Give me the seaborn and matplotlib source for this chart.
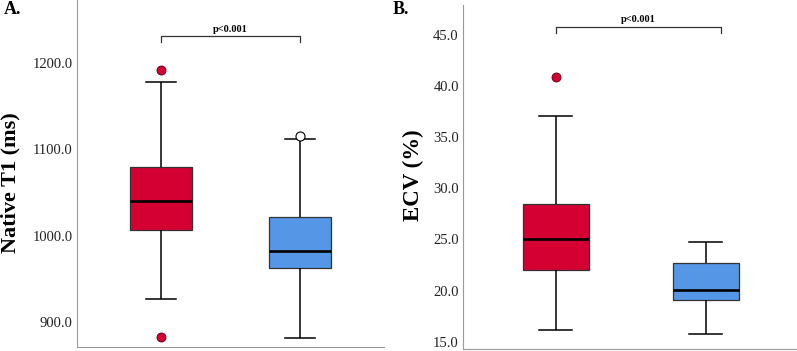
import pandas as pd
import seaborn as sns
import matplotlib.pyplot as plt

# groups (no x labels shown in the figure)
groups = ["Group 1", "Group 2"]
colors = ["#D50032", "#5596E6"]

# Panel A : Native T1 (ms) - box summaries
t1_whislo = [927, 881]
t1_q1 = [1006, 963]
t1_med = [1040, 982]
t1_q3 = [1080, 1022]
t1_whishi = [1178, 1112]
t1_out_red = [1192, 883]
t1_out_blue = [1116]

# Panel B : ECV (%)
ecv_whislo = [16.1, 15.75]
ecv_q1 = [22.0, 19.1]
ecv_med = [25.0, 20.07]
ecv_q3 = [28.5, 22.7]
ecv_whishi = [37.1, 24.75]
ecv_out_red = [40.9]
ecv_out_blue = []


def make_long(whislo, q1, med, q3, whishi):
    # five points per group -> exact quartiles with linear percentiles
    rows = []
    for i, g in enumerate(groups):
        for v in (whislo[i], q1[i], med[i], q3[i], whishi[i]):
            rows.append({"group": g, "value": v})
    return pd.DataFrame(rows)


plt.rcParams["font.family"] = ["Liberation Serif", "DejaVu Serif"]

fig = plt.figure(figsize=(7.97, 3.51), dpi=100)
axA = fig.add_axes([77 / 797, 4 / 351, 307 / 797, 347 / 351])
axB = fig.add_axes([463 / 797, 2 / 351, 334 / 797, 344 / 351])


def draw_panel(ax, df, out_red, out_blue, ylim, ticks):
    sns.boxplot(data=df, x="group", y="value", hue="group", order=groups,
                palette=colors, saturation=1, legend=False, width=0.44, whis=(0, 100),
                showfliers=False, linecolor="#333333", linewidth=0.9,
                medianprops={"color": "black", "linewidth": 1.9},
                whiskerprops={"color": "black", "linewidth": 1.1},
                capprops={"color": "black", "linewidth": 1.1}, ax=ax)
    if out_red:
        sns.stripplot(x=[groups[0]] * len(out_red), y=out_red, order=groups,
                      color=colors[0], edgecolor="#5a0015", linewidth=0.6,
                      size=6.5, jitter=False, ax=ax, zorder=5)
    if out_blue:
        sns.stripplot(x=[groups[1]] * len(out_blue), y=out_blue, order=groups,
                      color="white", edgecolor="black", linewidth=0.8,
                      size=6.5, jitter=False, ax=ax, zorder=5)
    ax.set_ylim(*ylim)
    ax.set_yticks(ticks)
    ax.set_yticklabels([f"{t:.1f}" for t in ticks])
    ax.set_xticks([])
    ax.set_xlabel("")
    ax.set_ylabel("")
    ax.tick_params(axis="y", length=0, pad=3, labelsize=10.5, labelcolor="#222222")
    for s in ["top", "right"]:
        ax.spines[s].set_visible(False)
    for s in ["left", "bottom"]:
        ax.spines[s].set_color("#999999")
        ax.spines[s].set_linewidth(0.8)


draw_panel(axA, make_long(t1_whislo, t1_q1, t1_med, t1_q3, t1_whishi),
           t1_out_red, t1_out_blue, (871, 1273), [900, 1000, 1100, 1200])
axA.set_xlim(-0.604, 1.604)

draw_panel(axB, make_long(ecv_whislo, ecv_q1, ecv_med, ecv_q3, ecv_whishi),
           ecv_out_red, ecv_out_blue, (14.29, 47.92), [15, 20, 25, 30, 35, 40, 45])
axB.set_xlim(-0.62, 1.607)

# significance brackets
axA.plot([0, 0, 1, 1], [1224, 1231, 1231, 1224], color="#333333", lw=0.9)
axA.text(0.5, 1234, "p<0.001", ha="center", va="bottom", fontsize=7.5, fontweight="bold")
axB.plot([0, 0, 1.1, 1.1], [45.2, 45.8, 45.8, 45.2], color="#333333", lw=0.9)
axB.text(0.55, 46.1, "p<0.001", ha="center", va="bottom", fontsize=7.5, fontweight="bold")

# axis titles and panel letters
fig.text(10.5 / 797, 1 - 183 / 351, "Native T1 (ms)", rotation=90, ha="center",
         va="center", fontsize=16, fontweight="bold")
fig.text(413 / 797, 1 - 175 / 351, "ECV (%)", rotation=90, ha="center",
         va="center", fontsize=16.5, fontweight="bold")
fig.text(4 / 797, 1 - 10 / 351, "A.", ha="left", va="center", fontsize=13, fontweight="bold")
fig.text(393 / 797, 1 - 9 / 351, "B.", ha="left", va="center", fontsize=13, fontweight="bold")

fig.savefig("out.png", dpi=100)
